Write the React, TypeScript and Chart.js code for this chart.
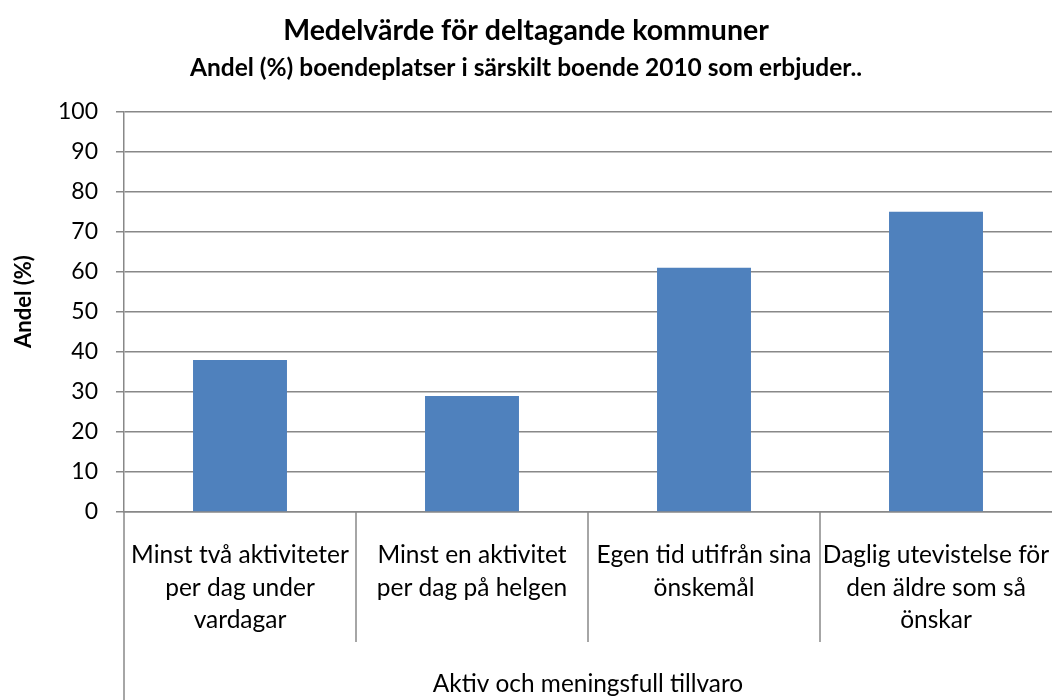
import React, { useEffect, useRef } from "react";
import { Chart, registerables } from "chart.js";

Chart.register(...registerables);

const chartTitle = "Medelvärde för deltagande kommuner";
const chartSubtitle = "Andel (%) boendeplatser i särskilt boende 2010 som erbjuder..";
const yAxisTitle = "Andel (%)";
const groupLabel = "Aktiv och meningsfull tillvaro";

const categories: string[][] = [
  ["Minst två aktiviteter", "per dag under", "vardagar"],
  ["Minst en aktivitet", "per dag på helgen"],
  ["Egen tid utifrån sina", "önskemål"],
  ["Daglig utevistelse för", "den äldre som så", "önskar"],
];

const values: number[] = [38, 29, 61, 75];

const yMin = 0;
const yMax = 100;
const yStep = 10;

const FONT = "Lato, 'Open Sans', sans-serif";
const AXIS_GRAY = "#888888";

const separatorPlugin = {
  id: "categorySeparators",
  afterDraw(chart: any) {
    const xs = chart.scales.x;
    const n = chart.data.labels.length;
    if (n < 2) return;
    const half = (xs.getPixelForValue(1) - xs.getPixelForValue(0)) / 2;
    const ctx = chart.ctx;
    ctx.save();
    ctx.strokeStyle = AXIS_GRAY;
    ctx.lineWidth = 1.5;
    for (let i = 0; i < n; i++) {
      const px = Math.round(xs.getPixelForValue(i) - half);
      const yEnd = i === 0 ? chart.height : xs.top + 130;
      ctx.beginPath();
      ctx.moveTo(px, xs.top);
      ctx.lineTo(px, yEnd);
      ctx.stroke();
    }
    ctx.restore();
  },
};

const yTitlePlugin = {
  id: "yAxisTitleText",
  afterDraw(chart: any) {
    const ctx = chart.ctx;
    ctx.save();
    ctx.translate(24, 301.5);
    ctx.rotate(-Math.PI / 2);
    ctx.fillStyle = "#000";
    ctx.font = `bold 22px ${FONT}`;
    ctx.textAlign = "center";
    ctx.textBaseline = "middle";
    ctx.fillText(yAxisTitle, 0, 0);
    ctx.restore();
  },
};

export default function App() {
  const ref = useRef<HTMLCanvasElement | null>(null);

  useEffect(() => {
    document.body.style.margin = "0";
    if (!ref.current) return;
    Chart.defaults.color = "#000";
    const chart = new Chart(ref.current, {
      type: "bar",
      data: {
        labels: categories,
        datasets: [
          {
            data: values,
            backgroundColor: "#4F81BD",
            borderWidth: 0,
            barPercentage: 0.405,
            categoryPercentage: 1,
          },
        ],
      },
      plugins: [separatorPlugin, yTitlePlugin],
      options: {
        responsive: false,
        animation: false,
        layout: { padding: 0 },
        plugins: {
          legend: { display: false },
          tooltip: { enabled: false },
          title: {
            display: true,
            text: chartTitle,
            color: "#000",
            font: { family: FONT, size: 28.5, weight: "bold", lineHeight: 1.2 },
            padding: { top: 13.4, bottom: 0 },
          },
          subtitle: {
            display: true,
            text: chartSubtitle,
            color: "#000",
            font: { family: FONT, size: 24.5, weight: "bold", lineHeight: 1.2 },
            padding: { top: 5.7, bottom: 29 },
          },
        },
        scales: {
          x: {
            grid: { display: false, drawTicks: false },
            border: { display: true, color: AXIS_GRAY, width: 1.5 },
            ticks: {
              autoSkip: false,
              maxRotation: 0,
              minRotation: 0,
              padding: 27,
              color: "#000",
              font: { family: FONT, size: 24.5, lineHeight: 1.327 },
            },
            title: {
              display: true,
              text: groupLabel,
              color: "#000",
              font: { family: FONT, size: 24.4, lineHeight: 1.2 },
              padding: { top: 0, bottom: 1.5 },
            },
            afterFit(scale: any) {
              scale.height = 188;
              scale.paddingLeft = 0;
              scale.paddingRight = 0;
            },
          },
          y: {
            min: yMin,
            max: yMax,
            grid: {
              color: AXIS_GRAY,
              lineWidth: 1.5,
              tickLength: 8,
            },
            border: { display: true, color: AXIS_GRAY, width: 1.5 },
            ticks: {
              stepSize: yStep,
              padding: 18,
              color: "#000",
              font: { family: FONT, size: 23 },
            },
            title: { display: false, text: yAxisTitle },
            afterFit(scale: any) {
              scale.width = 124;
            },
          },
        },
      },
    });
    return () => chart.destroy();
  }, []);

  return (
    <div style={{ position: "absolute", left: 0, top: 0, width: 1052, height: 700, background: "#fff" }}>
      <canvas ref={ref} width={1052} height={700} />
    </div>
  );
}
